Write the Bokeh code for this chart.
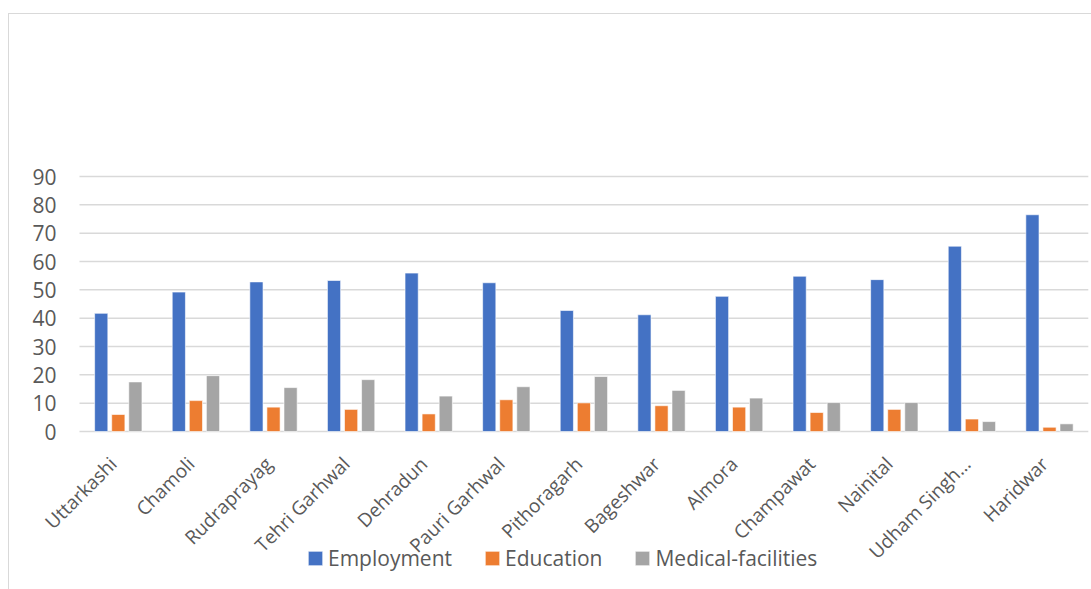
import math
from bokeh.plotting import figure
from bokeh.models import ColumnDataSource, Legend, LegendItem, Range1d
from bokeh.core.properties import value
from bokeh.embed import file_html
from bokeh.resources import INLINE

districts = ["Uttarkashi", "Chamoli", "Rudraprayag", "Tehri Garhwal", "Dehradun",
             "Pauri Garhwal", "Pithoragarh", "Bageshwar", "Almora", "Champawat",
             "Nainital", "Udham Singh…", "Haridwar"]
employment = [41.7, 49.2, 52.8, 53.3, 55.9, 52.5, 42.7, 41.2, 47.7, 54.8, 53.6, 65.4, 76.5]
education = [6.0, 10.9, 8.6, 7.8, 6.2, 11.2, 10.1, 9.1, 8.6, 6.7, 7.8, 4.4, 1.5]
medical = [17.5, 19.7, 15.5, 18.3, 12.5, 15.8, 19.4, 14.5, 11.8, 10.2, 10.2, 3.5, 2.7]
series_names = ["Employment", "Education", "Medical-facilities"]
colors = ["#4472C4", "#ED7D31", "#A5A5A5"]
yticks = [0, 10, 20, 30, 40, 50, 60, 70, 80, 90]

FONT = "Open Sans"
TXT = "#595959"
FS = "21px"
n = len(districts)

# category i occupies [i, i+1] on a linear scale; its centre is i + 0.5
centres = [i + 0.5 for i in range(n)]
src = ColumnDataSource(dict(name=districts, xc=centres, emp=employment, edu=education,
                            med=medical, zero=[0] * n))
ticks_src = ColumnDataSource(dict(y=yticks, lbl=[str(t) for t in yticks],
                                  x0=[0] * len(yticks), x1=[n] * len(yticks)))

# the frame covers the whole canvas so that labels and legend are drawn freely
p = figure(x_range=Range1d(-0.90206, 13.0412), y_range=Range1d(-55.765, 147.18),
           frame_width=1082, frame_height=575, output_backend="svg", toolbar_location=None,
           min_border=0)
p.styles = {"margin-left": "8px", "margin-top": "13px",
            "border-left": "1px solid #D9D9D9", "border-top": "1px solid #D9D9D9"}
p.outline_line_color = None
p.background_fill_color = "white"
p.xaxis.visible = False
p.yaxis.visible = False
p.grid.visible = False

# gridlines (including the baseline at 0)
p.segment(x0="x0", x1="x1", y0="y", y1="y", source=ticks_src,
          line_color="#D9D9D9", line_width=1.5)

# value labels
p.text(x="x0", y="y", text="lbl", source=ticks_src, x_offset=-23,
       text_align="right", text_baseline="middle",
       text_font=value(FONT), text_font_size=FS, text_color=TXT)

offsets = [-0.22, 0.0, 0.22]
cols = ["emp", "edu", "med"]
renderers = []
for off, col, c in zip(offsets, cols, colors):
    src_x = [xc + off for xc in centres]
    s = ColumnDataSource(dict(x=src_x, top=src.data[col]))
    r = p.vbar(x="x", top="top", width=0.17, bottom=0, source=s,
               fill_color=c, line_color="white", line_width=0.6)
    renderers.append(r)

# category labels
p.text(x="xc", y="zero", text="name", source=src, angle=math.pi / 4,
       text_align="right", text_baseline="alphabetic", x_offset=-5, y_offset=29,
       text_font=value(FONT), text_font_size="19px", text_color=TXT)

items = [LegendItem(label=nm, renderers=[r]) for nm, r in zip(series_names, renderers)]
legend = Legend(items=items, orientation="horizontal", location=(297, 17),
                label_text_font=FONT, label_text_font_size=FS, label_text_color=TXT,
                glyph_width=18, glyph_height=18, label_standoff=4, spacing=31,
                label_width=0, padding=0, margin=0, border_line_color=None,
                background_fill_alpha=0)
p.add_layout(legend, "center")

open("out.html", "w").write(file_html(p, INLINE))
